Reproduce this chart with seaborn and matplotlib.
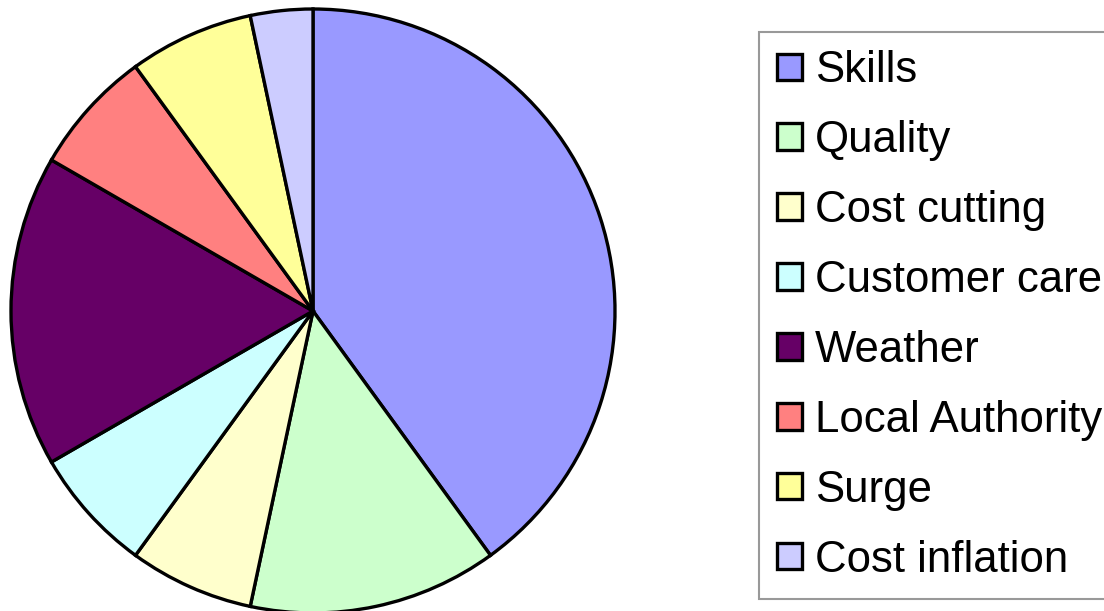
import matplotlib
matplotlib.use('Agg')
import matplotlib.pyplot as plt
import seaborn as sns
from matplotlib.patches import Patch

categories = ['Skills', 'Quality', 'Cost cutting', 'Customer care', 'Weather',
              'Local Authority', 'Surge', 'Cost inflation']
counts = [12, 4, 2, 2, 5, 2, 2, 1]
colours = ['#9999FF', '#CCFFCC', '#FFFFCC', '#CCFFFF', '#660066',
           '#FF8080', '#FFFF99', '#CCCCFF']

sns.set_theme(style='white')
plt.rcParams['font.family'] = ['Liberation Sans', 'DejaVu Sans']
plt.rcParams['text.color'] = 'black'

palette = sns.color_palette(colours)

fig = plt.figure(figsize=(11.04, 6.11), dpi=100)
# pie centre ~ (313, 311) px, radius ~ 302 px
ax = fig.add_axes([11 / 1104, (611 - 311 - 302) / 611, 604 / 1104, 604 / 611])
ax.pie(counts, colors=palette, startangle=90, counterclock=False,
       wedgeprops=dict(edgecolor='black', linewidth=2.4))
ax.set_xlim(-1, 1)
ax.set_ylim(-1, 1)
ax.set_aspect('equal')
ax.axis('off')

handles = [Patch(facecolor=c, edgecolor='black', linewidth=2.4) for c in palette]
leg = fig.legend(handles, categories, loc='upper left',
                 bbox_to_anchor=(759 / 1104, 1 - 32 / 611),
                 fontsize=31.5, frameon=True, fancybox=False,
                 handlelength=0.56, handleheight=0.56, handletextpad=0.3,
                 labelspacing=0.66, borderpad=0.42, borderaxespad=0)
leg.get_frame().set_edgecolor('#808080')
leg.get_frame().set_linewidth(1.5)
for t in leg.get_texts():
    t.set_color('black')

fig.savefig('out.png', dpi=100)
